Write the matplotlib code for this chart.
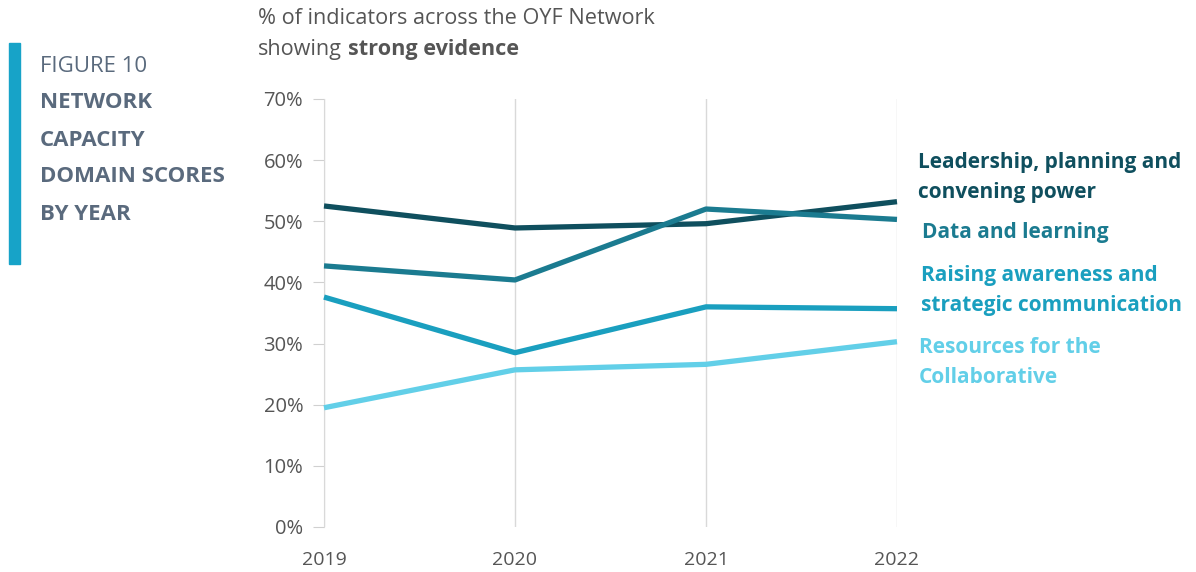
import matplotlib.pyplot as plt
from matplotlib.patches import Rectangle

plt.rcParams['font.family'] = ['Open Sans', 'DejaVu Sans']

# data (share of indicators showing strong evidence)
years = [2019, 2020, 2021, 2022]
leadership = [0.525, 0.489, 0.496, 0.532]
data_learning = [0.427, 0.404, 0.520, 0.503]
raising = [0.376, 0.285, 0.360, 0.357]
resources = [0.195, 0.257, 0.266, 0.303]

series_labels = [
    'Leadership, planning and\nconvening power',
    'Data and learning',
    'Raising awareness and\nstrategic communication',
    'Resources for the\nCollaborative',
]
series_colors = ['#0f4f5e', '#1b7b90', '#1a9fbf', '#62cfe8']
label_y = [0.572, 0.482, 0.387, 0.269]
label_x_offset = [0.11, 0.131, 0.126, 0.115]

y_ticks = [0, 0.1, 0.2, 0.3, 0.4, 0.5, 0.6, 0.7]
y_tick_labels = ['0%', '10%', '20%', '30%', '40%', '50%', '60%', '70%']

fig = plt.figure(figsize=(11.96, 5.72), dpi=100)
ax = fig.add_axes([0.2709, 0.0787, 0.4791, 0.7483])

for vals, col in zip([leadership, data_learning, raising, resources], series_colors):
    ax.plot(years, vals, color=col, lw=3.8, solid_capstyle='butt', clip_on=False, zorder=3)

ax.set_xlim(2019, 2022)
ax.set_ylim(0, 0.7)
ax.set_xticks(years)
ax.set_xticklabels([str(y) for y in years])
ax.set_yticks(y_ticks)
ax.set_yticklabels(y_tick_labels)
ax.tick_params(axis='x', length=0, pad=17, labelsize=14, labelcolor='#555555')
ax.tick_params(axis='y', length=8, width=0.8, color='#d0d0d0', pad=7, labelsize=14.5, labelcolor='#555555')
ax.grid(axis='x', color='#d9d9d9', lw=1)
for s in ['top', 'right', 'bottom']:
    ax.spines[s].set_visible(False)
ax.spines['left'].set_color('#d9d9d9')

# series labels on the right
for lab, col, ly, dx in zip(series_labels, series_colors, label_y, label_x_offset):
    ax.text(2022 + dx, ly, lab, color=col, fontsize=15, fontweight='bold',
            va='center', ha='left', linespacing=1.56, clip_on=False)

# axis title above the chart
fig.text(258 / 1196, 1 - 18 / 572, '% of indicators across the OYF Network',
         fontsize=15.6, color='#555555', va='center', ha='left')
t1 = fig.text(258 / 1196, 1 - 49 / 572, 'showing', fontsize=15.6, color='#555555', va='center', ha='left')
fig.canvas.draw()
bb = t1.get_window_extent()
fig.text((bb.x1 + 6) / 1196, 1 - 49 / 572, 'strong evidence', fontsize=15.6, color='#555555',
         fontweight='bold', va='center', ha='left')

# figure caption block on the left
fig.patches.append(Rectangle((9 / 1196, 1 - 264 / 572), 11 / 1196, 221 / 572,
                             transform=fig.transFigure, color='#17a3c8'))
fig.text(40 / 1196, 1 - 66 / 572, 'FIGURE 10', fontsize=16, color='#5a6a7d', va='center', ha='left')
caption = ['NETWORK', 'CAPACITY', 'DOMAIN SCORES', 'BY YEAR']
for i, line in enumerate(caption):
    fig.text(40 / 1196, 1 - (103 + 37 * i) / 572, line, fontsize=16, color='#5a6a7d',
             fontweight='bold', va='center', ha='left')

fig.savefig('out.png', dpi=100)
